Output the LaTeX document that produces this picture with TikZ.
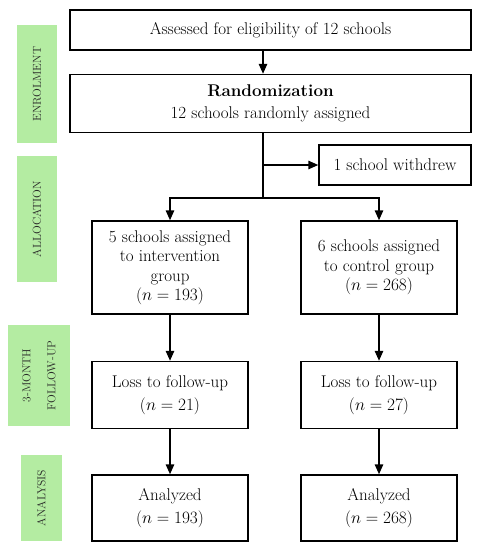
\documentclass[tikz,border=0pt]{standalone}
\usetikzlibrary{shapes,arrows,arrows.meta,positioning,calc}
\definecolor{phasegreen}{RGB}{180,236,162}

\begin{document}
\begin{tikzpicture}[
    x=1pt, y=-1pt,
    font=\fontsize{17}{19.5}\selectfont,
    block/.style={rectangle, draw, line width=1.5pt, align=center,
                  inner sep=2pt, minimum width=156pt},
    phase/.style={rectangle, fill=phasegreen, align=center, rotate=90,
                  font=\fontsize{11.5}{25}\selectfont, text=black!85},
    arr/.style={-{Triangle[length=10pt,width=8.5pt]}, line width=1.5pt},
    link/.style={line width=1.5pt},
  ]
    \useasboundingbox (0,0) rectangle (480,550);

    % Phase labels
    \node[phase, minimum width=118pt, minimum height=40pt] (enrol) at (37,84) {ENROLMENT};
    \node[phase, minimum width=126pt, minimum height=40pt] (alloc) at (37,219) {ALLOCATION};
    \node[phase, minimum width=101pt, minimum height=62pt] (follow) at (39,375.5) {3-MONTH\\FOLLOW-UP};
    \node[phase, minimum width=86pt, minimum height=41pt] (analysis) at (41.5,498) {ANALYSIS};

    % Enrolment
    \node[block, minimum width=401pt, minimum height=40pt] (assess) at (270.5,30) {Assessed for eligibility of 12 schools};
    \node[block, minimum width=401pt, minimum height=58pt, below=23pt of assess] (rand) {\textbf{Randomization}\\[2pt]12 schools randomly assigned};

    % Allocation
    \coordinate (split) at (263,198);
    \node[block, minimum width=152pt, minimum height=40pt] (withdrew) at (395,165) {1 school withdrew};
    \node[block, minimum height=93pt] (intv) at (170,267.5) {5 schools assigned\\to intervention\\group\\($n = 193$)};
    \node[block, minimum height=93pt] (ctrl) at (379,267.5) {6 schools assigned\\to control group\\($n = 268$)};

    % Follow-up
    \node[block, minimum height=67pt, below=46pt of intv] (loss1) {Loss to follow-up\\[4pt]($n = 21$)};
    \node[block, minimum height=67pt, below=46pt of ctrl] (loss2) {Loss to follow-up\\[4pt]($n = 27$)};

    % Analysis
    \node[block, minimum height=66pt, below=45pt of loss1] (ana1) {Analyzed\\[4pt]($n = 193$)};
    \node[block, minimum height=66pt, below=45pt of loss2] (ana2) {Analyzed\\[4pt]($n = 268$)};

    % Arrows
    \draw[arr] (assess.south -| split) -- (rand.north -| split);
    \draw[link] (rand.south -| split) -- (split);
    \draw[arr] (withdrew.west -| split) -- (withdrew.west);
    \draw[arr] (split) -| (intv.north);
    \draw[arr] (split) -| (ctrl.north);
    \draw[arr] (intv) -- (loss1);
    \draw[arr] (ctrl) -- (loss2);
    \draw[arr] (loss1) -- (ana1);
    \draw[arr] (loss2) -- (ana2);
\end{tikzpicture}
\end{document}
